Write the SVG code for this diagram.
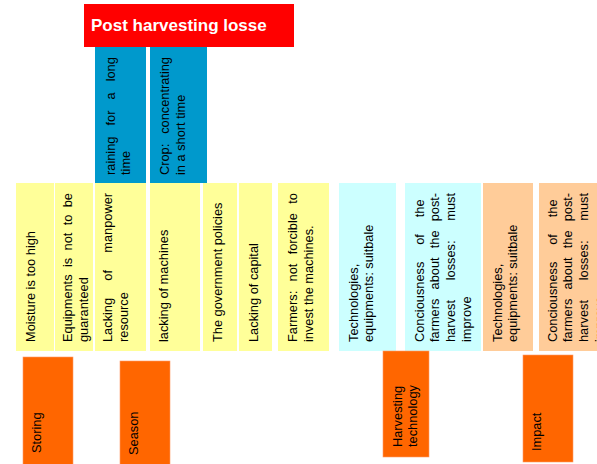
<svg xmlns="http://www.w3.org/2000/svg" width="597" height="464" viewBox="0 0 597 464">
<style>
  .t { font-family: "Liberation Sans", Arial, sans-serif; font-size: 12.8px; fill: #000; }
  .yel { fill: #FFFF99; }
  .cyan { fill: #CCFFFF; }
  .peach { fill: #FFCC99; }
  .blue { fill: #0099CC; }
  .orange { fill: #FF6600; stroke: #FF9966; stroke-width: 0.6; }
  .red { fill: #FF0000; }
  .title { font-family: "Liberation Sans", Arial, sans-serif; font-size: 17px; font-weight: bold; fill: #FFFFFF; }
</style>
<rect width="597" height="464" fill="#FFFFFF"/>

<g id="connectors"></g>

<g id="root">
  <rect class="red" x="84" y="4" width="210" height="43"/>
  <text class="title" x="91" y="31">Post harvesting losse</text>
</g>

<g id="n-raining">
  <rect class="blue" x="95" y="47" width="51" height="136"/>
  <text class="t" transform="translate(114.5,175) rotate(-90)"><tspan x="0" y="0" style="word-spacing:7.5px">raining for a long</tspan><tspan x="0" dy="15.8">time</tspan></text>
</g>
<g id="n-crop">
  <rect class="blue" x="150" y="47" width="57" height="136"/>
  <text class="t" transform="translate(169,175) rotate(-90)"><tspan x="0" y="0" style="word-spacing:6.3px">Crop: concentrating</tspan><tspan x="0" dy="15.8">in a short time</tspan></text>
</g>

<g id="n-moisture">
  <rect class="yel" x="16" y="183" width="38" height="168"/>
  <text class="t" transform="translate(35,342) rotate(-90)">Moisture is too high</text>
</g>
<g id="n-equipments">
  <rect class="yel" x="55" y="183" width="38" height="168"/>
  <text class="t" transform="translate(72,342) rotate(-90)"><tspan x="0" y="0" style="word-spacing:3.8px">Equipments is not to be</tspan><tspan x="0" dy="15.8">guaranteed</tspan></text>
</g>
<g id="n-manpower">
  <rect class="yel" x="95" y="183" width="51" height="168"/>
  <text class="t" transform="translate(112,342) rotate(-90)"><tspan x="0" y="0" style="word-spacing:13.7px">Lacking of manpower</tspan><tspan x="0" dy="15.8">resource</tspan></text>
</g>
<g id="n-machines">
  <rect class="yel" x="150" y="183" width="50" height="168"/>
  <text class="t" transform="translate(168,342) rotate(-90)">lacking of machines</text>
</g>
<g id="n-policies">
  <rect class="yel" x="203" y="183" width="34" height="168"/>
  <text class="t" transform="translate(222,342) rotate(-90)">The government policies</text>
</g>
<g id="n-capital">
  <rect class="yel" x="239" y="183" width="33" height="168"/>
  <text class="t" transform="translate(258,342) rotate(-90)">Lacking of capital</text>
</g>
<g id="n-farmers">
  <rect class="yel" x="278" y="183" width="51" height="168"/>
  <text class="t" transform="translate(297,342) rotate(-90)"><tspan x="0" y="0" style="word-spacing:5.8px">Farmers: not forcible to</tspan><tspan x="0" dy="15.8">invest the machines.</tspan></text>
</g>

<g id="n-tech1">
  <rect class="cyan" x="339" y="183" width="57" height="168"/>
  <text class="t" transform="translate(357.5,342) rotate(-90)"><tspan x="0" y="0">Technologies,</tspan><tspan x="0" dy="15.8">equipments: suitbale</tspan></text>
</g>
<g id="n-conc1">
  <rect class="cyan" x="405" y="183" width="76" height="168"/>
  <text class="t" transform="translate(423.5,342) rotate(-90)"><tspan x="0" y="0" style="word-spacing:13.3px">Conciousness of the</tspan><tspan x="0" dy="15.8" style="word-spacing:5.6px">farmers about the post-</tspan><tspan x="0" dy="15.8" style="word-spacing:16.2px">harvest losses: must</tspan><tspan x="0" dy="15.8">improve</tspan></text>
</g>

<g id="n-tech2">
  <rect class="peach" x="483" y="183" width="50" height="168"/>
  <text class="t" transform="translate(501.5,342) rotate(-90)"><tspan x="0" y="0">Technologies,</tspan><tspan x="0" dy="15.8">equipments: suitbale</tspan></text>
</g>
<g id="n-conc2">
  <rect class="peach" x="539" y="183" width="76" height="168"/>
  <text class="t" transform="translate(556.5,342) rotate(-90)"><tspan x="0" y="0" style="word-spacing:13.3px">Conciousness of the</tspan><tspan x="0" dy="15.8" style="word-spacing:5.6px">farmers about the post-</tspan><tspan x="0" dy="15.8" style="word-spacing:16.2px">harvest losses: must</tspan><tspan x="0" dy="15.8">improve</tspan></text>
</g>

<g id="n-storing">
  <rect class="orange" x="23" y="357" width="50" height="112"/>
  <text class="t" transform="translate(41,453) rotate(-90)">Storing</text>
</g>
<g id="n-season">
  <rect class="orange" x="120" y="361" width="50" height="108"/>
  <text class="t" transform="translate(138,455) rotate(-90)">Season</text>
</g>
<g id="n-harvesting">
  <rect class="orange" x="383" y="351" width="46" height="106"/>
  <text class="t" transform="translate(401.5,447) rotate(-90)"><tspan x="0" y="0">Harvesting</tspan><tspan x="0" dy="15.8">technology</tspan></text>
</g>
<g id="n-impact">
  <rect class="orange" x="523" y="355" width="50" height="107"/>
  <text class="t" transform="translate(541,451) rotate(-90)">Impact</text>
</g>
</svg>
